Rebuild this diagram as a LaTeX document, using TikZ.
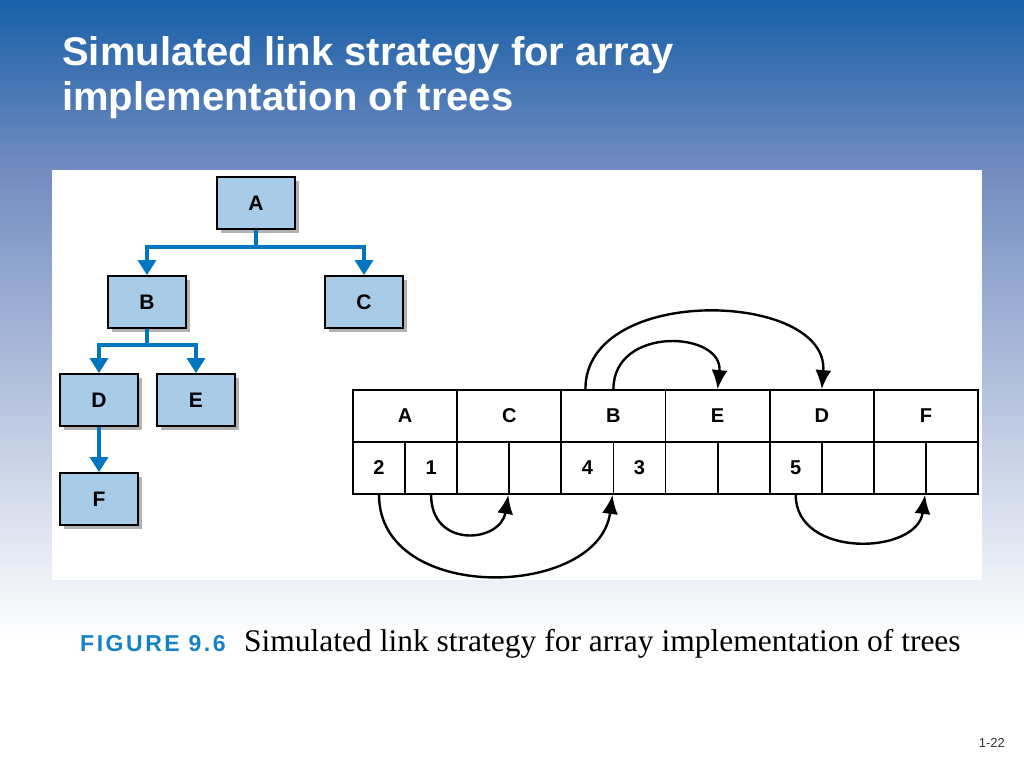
\documentclass[tikz,border=0pt]{standalone}
\usepackage{fontspec}
\setmainfont{Liberation Serif}
\setsansfont{Liberation Sans}
\usetikzlibrary{arrows.meta,shadows}
\definecolor{bgtop}{RGB}{24,96,168}
\definecolor{bgmid}{RGB}{115,140,192}
\definecolor{boxfill}{RGB}{168,204,232}
\definecolor{treeblue}{RGB}{0,118,192}
\definecolor{figblue}{RGB}{20,130,200}
\tikzset{
  treenode/.style={draw=black,line width=1.8pt,fill=boxfill,minimum width=78pt,minimum height=52pt,inner sep=0pt,
    font=\sffamily\bfseries\fontsize{21}{23}\selectfont,
    drop shadow={shadow xshift=4pt,shadow yshift=-4pt,fill=black!30,opacity=1}},
  treeline/.style={draw=treeblue,line width=3.2pt,-{Triangle[length=15pt,width=18pt]}},
  topcell/.style={draw=black,line width=1.8pt,minimum width=104.17pt,minimum height=52pt,inner sep=0pt,
    font=\sffamily\bfseries\fontsize{20}{22}\selectfont},
  halfcell/.style={draw=black,line width=1.8pt,minimum width=52.08pt,minimum height=52pt,inner sep=0pt,
    font=\sffamily\bfseries\fontsize{20}{22}\selectfont},
  celltext/.style={font=\sffamily\bfseries\fontsize{20}{22}\selectfont},
  link/.style={draw=black,line width=2.4pt,-{Latex[length=19pt,width=16pt]}},
  titletext/.style={anchor=base west,text=white,font=\sffamily\bfseries\fontsize{40}{45}\selectfont,inner sep=0pt},
}
\begin{document}
\begin{tikzpicture}[x=1pt,y=-1pt]
\useasboundingbox (0,0) rectangle (1024,768);
% background
\fill[white] (0,0) rectangle (1024,768);
\shade[top color=bgtop,bottom color=bgmid] (0,0) rectangle (1024,170);
\shade[top color=bgmid,bottom color=white] (0,170) rectangle (1024,640);
\fill[white] (52,170) rectangle (982,580);
% title
\node[titletext] (title1) at (62,65) {Simulated link strategy for array};
\node[titletext] (title2) at (62,110) {implementation of trees};
% tree
\node[treenode] (A) at (256,203) {A};
\node[treenode] (B) at (147,302) {B};
\node[treenode] (C) at (364,302) {C};
\node[treenode] (D) at (99,400) {D};
\node[treenode] (E) at (196,400) {E};
\node[treenode] (F) at (99,499) {F};
\coordinate (ja) at (256,247);
\coordinate (jb) at (147,345);
\draw[treeline] (A.south) -- (ja) -| (B.north);
\draw[treeline] (ja) -| (C.north);
\draw[treeline] (B.south) -- (jb) -| (D.north);
\draw[treeline] (jb) -| (E.north);
\draw[treeline] (D.south) -- (F.north);
% array
\foreach \n [count=\i from 0] in {A,C,B,E,D,F} {
  \node[topcell] (t\n) at ({405.08+104.17*\i},416) {\n};
  \node[halfcell] (l\n) at ({379.04+104.17*\i},468) {};
  \node[halfcell] (r\n) at ({431.12+104.17*\i},468) {};
}
\node[celltext] at (lA) {2};
\node[celltext] at (rA) {1};
\node[celltext] at (lB) {4};
\node[celltext] at (rB) {3};
\node[celltext] at (lD) {5};
% links below
\draw[link] (lA.south) .. controls ([yshift=-110pt]lA.south) and ([xshift=-14pt,yshift=-104pt]rB.south west) .. (rB.south west);
\draw[link] (rA.south) .. controls ([yshift=-54pt]rA.south) and ([xshift=-8pt,yshift=-48pt]rC.south west) .. (rC.south west);
\draw[link] (lD.south) .. controls ([yshift=-64pt]lD.south) and ([xshift=-8pt,yshift=-60pt]rF.south west) .. (rF.south west);
% links above
\coordinate (bs1) at ([xshift=-28pt]tB.north);
\draw[link] (bs1) .. controls ([yshift=106pt]bs1) and ([xshift=8pt,yshift=98pt]tD.north) .. (tD.north);
\draw[link] (tB.north) .. controls ([yshift=64pt]tB.north) and ([xshift=6pt,yshift=58pt]tE.north) .. (tE.north);
% caption
\node[anchor=base west,inner sep=0pt,text=figblue,font=\sffamily\bfseries\fontsize{23}{25}\selectfont\addfontfeatures{LetterSpace=11}] (fig) at (80,651) {FIGURE 9.6};
\node[anchor=base west,inner sep=0pt,font=\rmfamily\fontsize{31.5}{33}\selectfont] (cap) at (244,651) {Simulated link strategy for array implementation of trees};
\node[anchor=base east,inner sep=0pt,text=black!80,font=\sffamily\fontsize{13}{15}\selectfont] (pg) at (1005,747) {1-22};
\end{tikzpicture}
\end{document}
